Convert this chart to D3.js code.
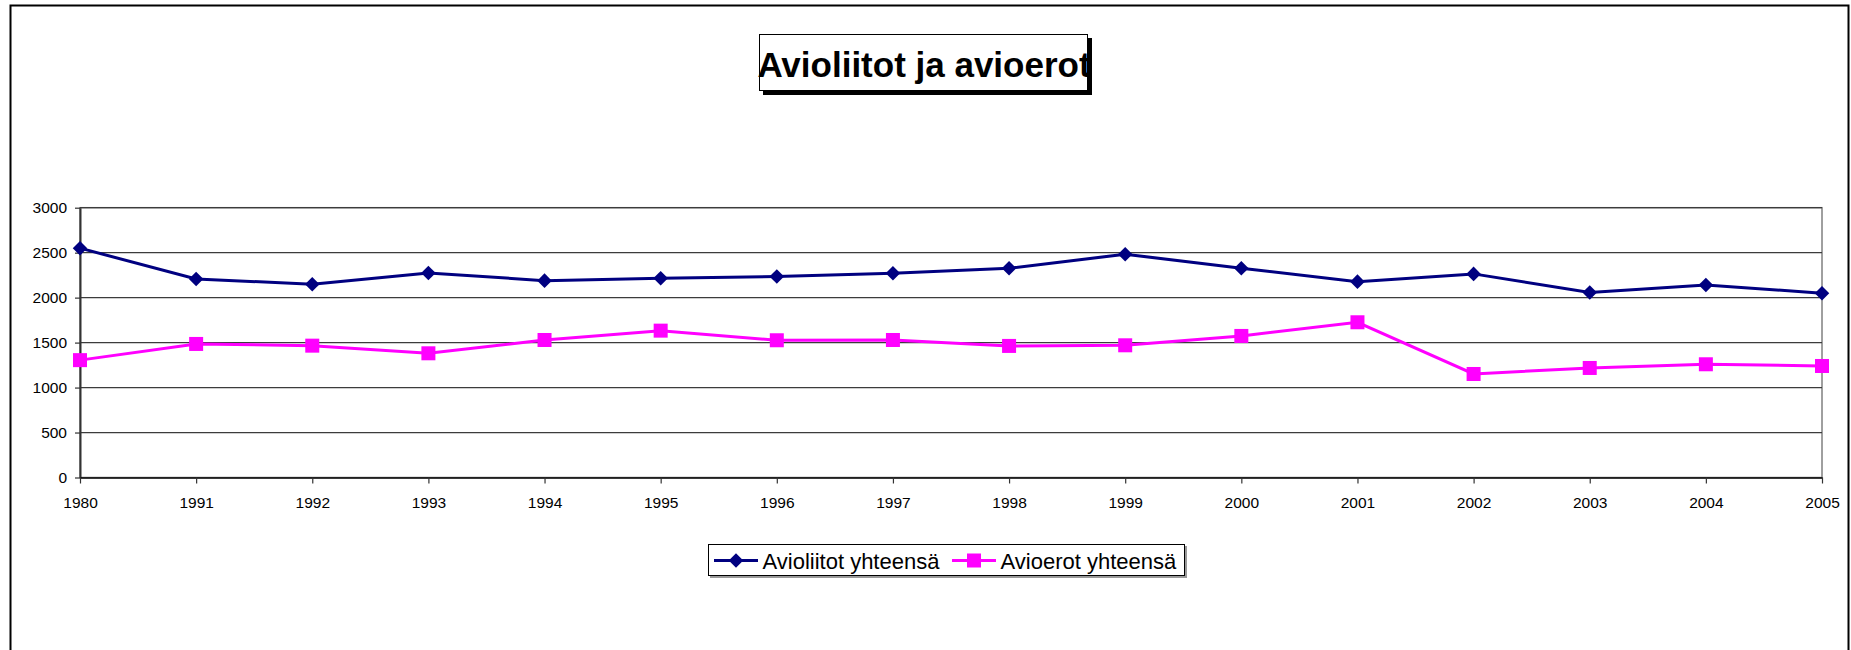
<!DOCTYPE html>
<html>
<head>
<meta charset="utf-8">
<style>
body {
  margin: 0;
  background: #fff;
  font-family: "Liberation Sans", Arial, sans-serif;
}
</style>
</head>
<body>
<script src="https://cdn.jsdelivr.net/npm/d3@7/dist/d3.min.js"></script>
<script>

var years = ["1980", "1991", "1992", "1993", "1994", "1995", "1996", "1997",
             "1998", "1999", "2000", "2001", "2002", "2003", "2004", "2005"];
var avioliitot = [2550, 2208, 2149, 2275, 2189, 2216, 2234, 2271,
                  2327, 2483, 2327, 2178, 2264, 2056, 2141, 2049];
var avioerot = [1305, 1485, 1466, 1381, 1529, 1633, 1526, 1529,
                1463, 1470, 1574, 1726, 1151, 1218, 1259, 1240];
var yTicks = [0, 500, 1000, 1500, 2000, 2500, 3000];
var seriesNames = ["Avioliitot yhteensä", "Avioerot yhteensä"];

var width = 1851,
    height = 650;

var svg = d3.select("body")
    .append("svg")
    .attr("width", width)
    .attr("height", height);

// outer chart border
svg.append("rect")
    .attr("x", 10.5)
    .attr("y", 5.5)
    .attr("width", 1838)
    .attr("height", 700)
    .attr("fill", "#fff")
    .attr("stroke", "#000")
    .attr("stroke-width", 2);

var x = d3.scalePoint()
    .domain(years)
    .range([80, 1822]);

var y = d3.scaleLinear()
    .domain([0, 3000])
    .range([477.5, 207.7]);

// plot area border
svg.append("rect")
    .attr("x", 80)
    .attr("y", y(3000))
    .attr("width", 1822 - 80)
    .attr("height", y(0) - y(3000))
    .attr("fill", "none")
    .attr("stroke", "#808080")
    .attr("stroke-width", 1.5);

// gridlines
svg.append("g")
    .selectAll("line")
    .data(yTicks.slice(1))
    .enter().append("line")
    .attr("x1", 80)
    .attr("x2", 1822)
    .attr("y1", function(d) { return y(d); })
    .attr("y2", function(d) { return y(d); })
    .attr("stroke", "#3c3c3c")
    .attr("stroke-width", 1.2);

// y axis
var yAxis = svg.append("g")
    .attr("transform", "translate(80,0)")
    .call(d3.axisLeft(y).tickValues(yTicks).tickFormat(d3.format("d"))
      .tickSize(5).tickPadding(8).tickSizeOuter(0));
yAxis.select(".domain").attr("stroke", "#333").attr("stroke-width", 2);
yAxis.selectAll(".tick line").attr("stroke", "#333").attr("stroke-width", 1.2);
yAxis.selectAll("text")
    .attr("font-family", "Liberation Sans, Arial, sans-serif")
    .attr("font-size", 15.5)
    .attr("fill", "#000");

// x axis
var xAxis = svg.append("g")
    .attr("transform", "translate(0," + y(0) + ")")
    .call(d3.axisBottom(x).tickSize(6).tickPadding(13).tickSizeOuter(0));
xAxis.select(".domain").attr("stroke", "#000").attr("stroke-width", 1.5);
xAxis.selectAll(".tick line").attr("stroke", "#333").attr("stroke-width", 1.2);
xAxis.selectAll("text")
    .attr("font-family", "Liberation Sans, Arial, sans-serif")
    .attr("font-size", 15.5)
    .attr("fill", "#000");

var line = d3.line()
    .x(function(d, i) { return x(years[i]); })
    .y(function(d) { return y(d); });

svg.append("path")
    .datum(avioliitot)
    .attr("d", line)
    .attr("fill", "none")
    .attr("stroke", "#000080")
    .attr("stroke-width", 3);

svg.append("path")
    .datum(avioerot)
    .attr("d", line)
    .attr("fill", "none")
    .attr("stroke", "#ff00ff")
    .attr("stroke-width", 3);

var diamond = d3.symbol().type(d3.symbolDiamond2).size(135);

svg.append("g")
    .selectAll("path")
    .data(avioliitot)
    .enter().append("path")
    .attr("transform", function(d, i) { return "translate(" + x(years[i]) + "," + y(d) + ")"; })
    .attr("d", diamond)
    .attr("fill", "#000080");

svg.append("g")
    .selectAll("rect")
    .data(avioerot)
    .enter().append("rect")
    .attr("x", function(d, i) { return x(years[i]) - 7; })
    .attr("y", function(d) { return y(d) - 7; })
    .attr("width", 14)
    .attr("height", 14)
    .attr("fill", "#ff00ff");

// title
svg.append("rect")
    .attr("x", 763)
    .attr("y", 38)
    .attr("width", 329)
    .attr("height", 57)
    .attr("fill", "#000");
svg.append("rect")
    .attr("x", 759.5)
    .attr("y", 34.5)
    .attr("width", 328)
    .attr("height", 56)
    .attr("fill", "#fff")
    .attr("stroke", "#000")
    .attr("stroke-width", 1);
svg.append("text")
    .attr("x", 924)
    .attr("y", 76.5)
    .attr("text-anchor", "middle")
    .attr("font-family", "Liberation Sans, Arial, sans-serif")
    .attr("font-weight", "bold")
    .attr("font-size", 35)
    .text("Avioliitot ja avioerot");

// legend
svg.append("rect")
    .attr("x", 710)
    .attr("y", 546)
    .attr("width", 477)
    .attr("height", 32)
    .attr("fill", "#999");
svg.append("rect")
    .attr("x", 708.5)
    .attr("y", 544.5)
    .attr("width", 476)
    .attr("height", 31)
    .attr("fill", "#fff")
    .attr("stroke", "#000")
    .attr("stroke-width", 1);

var legendX = [714, 952];
var legendColors = ["#000080", "#ff00ff"];

var legend = svg.append("g")
    .selectAll("g")
    .data(seriesNames)
    .enter().append("g")
    .attr("transform", function(d, i) { return "translate(" + legendX[i] + ",560.5)"; });

legend.append("line")
    .attr("x1", 0)
    .attr("x2", 44)
    .attr("stroke", function(d, i) { return legendColors[i]; })
    .attr("stroke-width", 3);

legend.filter(function(d, i) { return i === 0; })
    .append("path")
    .attr("transform", "translate(22,0)")
    .attr("d", diamond)
    .attr("fill", "#000080");

legend.filter(function(d, i) { return i === 1; })
    .append("rect")
    .attr("x", 15)
    .attr("y", -7)
    .attr("width", 14)
    .attr("height", 14)
    .attr("fill", "#ff00ff");

legend.append("text")
    .attr("x", 48.5)
    .attr("y", 8)
    .attr("font-family", "Liberation Sans, Arial, sans-serif")
    .attr("font-size", 22)
    .text(function(d) { return d; });

</script>
</body>
</html>
